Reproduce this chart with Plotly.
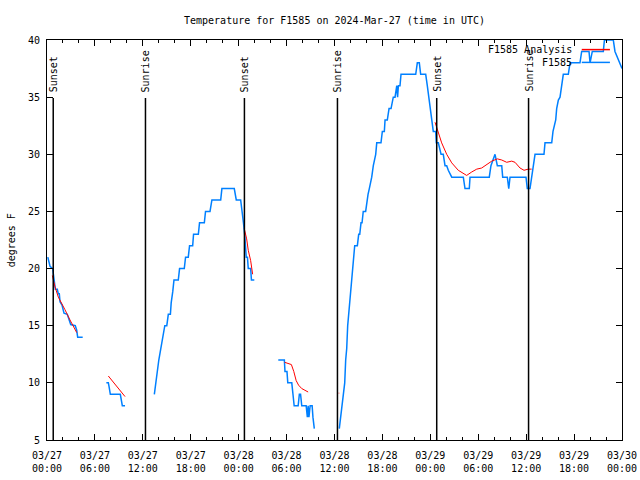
import plotly.graph_objects as go
import pandas as pd

# ---- data (hours since 2024-03-27 00:00 UTC, temperature in F) ----
obs_hours = [
    0.1, 0.29, 0.38, 0.71, 0.79, 0.84, 0.96, 1.04, 1.29, 1.41, 1.54, 1.63, 1.88, 2.04, 2.13, 2.54, 2.72, 2.97, 3.54, 3.72, 3.84, 4.47, None,
    7.43, 7.68, 7.75, 7.93, 9.18, 9.35, 9.43, 9.77, None,
    13.44, 13.6, 13.8, 14.0, 14.25, 14.5, 14.75, 15.0, 15.19, 15.45, 15.55, 15.75, 15.9, 16.44, 16.6, 17.19, 17.35, 17.69, 17.85,
    18.24, 18.35, 18.95, 19.1, 19.7, 19.85, 20.41, 20.65, 21.75, 21.9, 23.45, 23.7, 24.25, 24.45, 24.6, 24.75, 24.85, 24.95,
    25.1, 25.2, 25.5, 25.6, 25.96, None,
    28.96, 29.72, 29.8, 30.05, 30.15, 30.65, 30.8, 30.95, 31.45, 31.6, 31.75, 31.9, 32.45, 32.6, 32.7, 32.8, 32.95, 33.2, 33.3, 33.47, None,
    36.6, 36.78, 36.98, 37.15, 37.28, 37.4, 37.53, 37.65, 37.78, 37.9, 38.03, 38.15, 38.28, 38.4, 38.53, 38.86, 39.03, 39.16, 39.32,
    39.45, 39.6, 39.9, 40.04, 40.2, 40.36, 40.66, 40.86, 41.16, 41.29, 41.82, 41.99, 42.24, 42.33, 42.61, 42.83, 43.08, 43.36, 43.58,
    43.8, 43.9, 44.0, 44.2, 44.33, 44.7, 46.17, 46.37, 46.62, 46.79, 47.42, 47.62, 47.8, 47.96, 48.17, 48.37, 48.67, 48.75, 49.0,
    49.12, 49.34, 49.62, 49.84, 50.05, 50.25, 50.68, 52.13, 52.34, 52.88, 52.97, 55.38, 55.59, 56.1, 56.39, 56.94, 57.06, 57.64,
    57.82, 57.98, 59.98, 60.14, 60.48, 60.69, 61.11, 61.52, 62.23, 62.36, 63.2, 63.36, 63.7, 63.82, 64.03, 64.24, 64.45, 64.65,
    65.28, 65.49, 66.74, 66.95, 67.87, 68.0, 68.28, 69.66, 69.8, 70.91, 71.12, 71.75, 72.0,
]
obs_temp = [
    21, 20.5, 20.2, 20, 19.6, 19.1, 18.8, 18.2, 18.2, 17.8, 17.8, 17.1, 16.8, 16.4, 16.1, 16.0, 15.6, 15.1, 15, 14.6, 14.0, 14.0, None,
    10, 10, 9.75, 9, 9, 8.2, 8, 8, None,
    9, 10, 11, 12, 13, 14, 15, 15, 16, 16, 17, 18, 19, 19, 20, 20, 21, 21, 22,
    22, 23, 23, 24, 24, 25, 25, 26, 26, 27, 27, 26, 26, 25, 24, 23, 22, 21,
    21, 20, 20, 19, 19, None,
    12, 12, 11, 11, 10, 10, 9, 8, 8, 9, 9, 8, 8, 7, 8, 7, 8, 8, 7, 6, None,
    6, 7, 8, 9, 10, 12, 13, 15, 16, 17, 18, 19, 20, 21, 22, 22, 23, 23, 24,
    24, 25, 25, 26, 26.5, 27, 28, 29, 30, 31, 31, 32, 32, 33, 33, 34, 34, 35, 35,
    36, 35, 36, 36, 37, 37, 37, 38, 38, 37, 37, 36, 35, 34, 33, 32, 32, 31, 31,
    30.7, 30, 30, 29, 29, 28.6, 28, 28, 27, 27, 28, 28, 29, 30, 29, 29, 28, 28,
    27, 28, 28, 27, 27, 28, 30, 30, 30, 31, 31, 32, 33, 34, 34.75, 35, 36, 37,
    37, 38, 38, 39, 39, 38, 39, 39, 40, 40, 39, 38, 37.5,
]

ana_hours = [
    0.67, 1.0, 1.42, 1.84, 2.25, 2.88, 3.3, 3.72, None,
    7.68, 8.72, 9.77, None,
    24.7, 25.0, 25.2, 25.5, 25.75, None,
    29.75, 30.6, 30.9, 31.2, 31.5, 31.9, 32.3, 32.7, None,
    36.52, 36.6, None,
    48.59, 49.0, 49.42, 50.05, 50.68, 51.5, 52.55, 53.18, 53.81, 54.43, 55.06, 55.69, 56.39, 56.94, 57.56, 58.19, 58.6,
    59.23, 59.73, 60.26, 60.69,
]
ana_temp = [
    19.4, 18.4, 17.5, 17.0, 16.4, 15.5, 14.9, 14.4, None,
    10.6, 9.7, 8.8, None,
    23.5, 22.6, 21.6, 20.7, 19.5, None,
    11.8, 11.6, 11.0, 10.2, 9.8, 9.5, 9.35, 9.2, None,
    9.1, 9.1, None,
    32.8, 31.85, 31.0, 30.0, 29.25, 28.6, 28.15, 28.45, 28.7, 28.8, 29.1, 29.4, 29.6, 29.5, 29.3, 29.4, 29.3,
    28.8, 28.6, 28.7, 28.7,
]

sun_hours = [0.78, 12.33, 24.72, 36.37, 48.8, 60.3]
sun_labels = ["Sunset", "Sunrise", "Sunset", "Sunrise", "Sunset", "Sunrise"]

title_text = "Temperature for F1585 on 2024-Mar-27 (time in UTC)"
series_names = ["F1585 Analysis", "F1585"]
base = pd.Timestamp("2024-03-27 00:00")


def to_time(hours):
    return [None if h is None else base + pd.Timedelta(hours=h) for h in hours]


FONT = "DejaVu Sans Mono"
BLUE = "rgb(0,128,255)"
RED = "rgb(255,0,0)"

fig = go.Figure()
fig.add_trace(go.Scatter(x=to_time(obs_hours), y=obs_temp, mode="lines", name=series_names[1],
                         line=dict(color=BLUE, width=1.5), connectgaps=False, showlegend=False))
fig.add_trace(go.Scatter(x=to_time(ana_hours), y=ana_temp, mode="lines", name=series_names[0],
                         line=dict(color=RED, width=1), connectgaps=False, showlegend=False))

shapes = []
annotations = []
for h, lab in zip(sun_hours, sun_labels):
    t = base + pd.Timedelta(hours=h)
    shapes.append(dict(type="line", xref="x", yref="paper", x0=t, x1=t, y0=0, y1=0.855,
                       line=dict(color="black", width=1.5)))
    annotations.append(dict(x=t, y=0.865, xref="x", yref="paper", text=lab, textangle=-90,
                            showarrow=False, xanchor="center", yanchor="bottom",
                            font=dict(family=FONT, size=10, color="black")))

# gnuplot-style key: text on the left, sample line on the right
key_rows = [(series_names[0], RED, 0.976), (series_names[1], BLUE, 0.944)]
for name, col, yy in key_rows:
    annotations.append(dict(x=0.917, y=yy, xref="paper", yref="paper", text=name, showarrow=False,
                            xanchor="right", yanchor="middle", font=dict(family=FONT, size=10, color="black")))
    shapes.append(dict(type="line", xref="paper", yref="paper", x0=0.93, x1=0.979, y0=yy, y1=yy,
                       line=dict(color=col, width=1.5)))

annotations.append(dict(x=-0.062, y=0.5, xref="paper", yref="paper", text="degrees F", textangle=-90,
                        showarrow=False, xanchor="center", yanchor="middle",
                        font=dict(family=FONT, size=10, color="black")))

fig.update_layout(
    width=640, height=480,
    margin=dict(l=47, r=18, t=40, b=40),
    paper_bgcolor="white", plot_bgcolor="white",
    font=dict(family=FONT, size=10, color="black"),
    title=dict(text=title_text, x=0.5, xref="paper", xanchor="center", y=0.958, yanchor="middle",
               font=dict(family=FONT, size=10, color="black")),
    shapes=shapes, annotations=annotations,
    showlegend=False,
)
fig.update_xaxes(
    type="date", automargin=False,
    range=[base, base + pd.Timedelta(hours=72)],
    dtick=6 * 3600 * 1000, tick0=base,
    tickformat="%m/%d<br>%H:%M",
    ticks="inside", ticklen=6, tickcolor="black", tickwidth=1,
    minor=dict(dtick=2 * 3600 * 1000, ticks="inside", ticklen=3, tickcolor="black", showgrid=False),
    showline=True, linecolor="black", linewidth=1, mirror="allticks",
    showgrid=False, zeroline=False,
    ticklabelstandoff=6, ticklabeloverflow="allow",
)
fig.update_yaxes(
    automargin=False,
    range=[5, 40], dtick=5, tick0=5,
    ticks="inside", ticklen=6, tickcolor="black", tickwidth=1,
    showline=True, linecolor="black", linewidth=1, mirror="allticks",
    showgrid=False, zeroline=False,
    ticklabelstandoff=4,
)

# remove the default 8px page margin so the 640x480 figure fills the window exactly
fig.write_html("out.html", config={"displayModeBar": False},
               post_script="document.body.style.margin='0px';")
